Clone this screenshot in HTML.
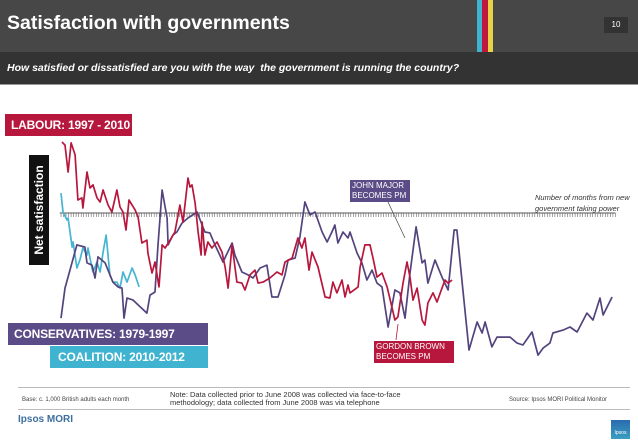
<!DOCTYPE html>
<html><head><meta charset="utf-8">
<style>
body{margin:0;width:638px;height:442px;overflow:hidden;background:#fff;font-family:"Liberation Sans",sans-serif;position:relative}
.abs{position:absolute}
.box{position:absolute;color:#fff;font-weight:bold;font-size:12px;line-height:22px;padding-left:6px;box-sizing:border-box;white-space:nowrap;letter-spacing:-0.2px}
</style></head><body>
<div class="abs" style="left:0;top:0;width:638px;height:52px;background:#474747"></div>
<div class="abs" style="left:7px;top:12px;color:#fff;font-weight:bold;font-size:19.5px">Satisfaction with governments</div>
<div class="abs" style="left:477px;top:0;width:5px;height:52px;background:#3fb3cf"></div>
<div class="abs" style="left:482px;top:0;width:6px;height:52px;background:#c0173d"></div>
<div class="abs" style="left:488px;top:0;width:5px;height:52px;background:#e6d34a"></div>
<div class="abs" style="left:604px;top:17px;width:24px;height:16px;background:#333;color:#fff;font-size:8px;text-align:center;line-height:16px">10</div>
<div class="abs" style="left:0;top:52px;width:638px;height:32px;background:#333;border-bottom:1px solid #999"></div>
<div class="abs" style="left:7px;top:62px;color:#fff;font-style:italic;font-weight:bold;font-size:10.5px">How satisfied or dissatisfied are you with the way &nbsp;the government is running the country?</div>

<div class="box" style="left:5px;top:114px;width:127px;height:22px;background:#b8173d">LABOUR: 1997 - 2010</div>
<div class="abs" style="left:29px;top:155px;width:20px;height:110px;background:#111"><div style="position:absolute;left:50%;top:50%;transform:translate(-50%,-50%) rotate(-90deg);color:#fff;font-weight:bold;font-size:12px;white-space:nowrap">Net satisfaction</div></div>
<div class="box" style="left:8px;top:323px;width:200px;height:22px;background:#5b4b86">CONSERVATIVES: 1979-1997</div>
<div class="box" style="left:50px;top:346px;width:158px;height:22px;background:#3fb3cf;padding-left:8px">COALITION: 2010-2012</div>
<div class="abs" style="left:350px;top:180px;width:60px;height:22px;background:#5b4b86;color:#fff;font-size:8px;line-height:10px;padding:1px 2px;box-sizing:border-box">JOHN MAJOR<br>BECOMES PM</div>
<div class="abs" style="left:374px;top:341px;width:80px;height:22px;background:#b8173d;color:#fff;font-size:8px;line-height:10px;padding:1px 2px;box-sizing:border-box">GORDON BROWN<br>BECOMES PM</div>
<div class="abs" style="left:535px;top:192px;font-style:italic;font-size:7.5px;color:#333;line-height:11px">Number of months from new<br>government taking power</div>

<svg class="abs" style="left:0;top:0" width="638" height="442">
<g id="ticks"></g>
<g id="series"></g>
<line x1="388" y1="202" x2="405" y2="238" stroke="#555" stroke-width="0.8"/>
<line x1="396" y1="340" x2="398" y2="324" stroke="#b8173d" stroke-width="0.8"/>
</svg>

<div class="abs" style="left:18px;top:387px;width:612px;height:1px;background:#bbb"></div>
<div class="abs" style="left:22px;top:397px;font-size:6px;color:#444">Base: c. 1,000 British adults each month</div>
<div class="abs" style="left:170px;top:391px;font-size:7.5px;line-height:8px;color:#333">Note: Data collected prior to June 2008 was collected via face-to-face<br>methodology; data collected from June 2008 was via telephone</div>
<div class="abs" style="left:509px;top:397px;font-size:6px;color:#444">Source: Ipsos MORI Political Monitor</div>
<div class="abs" style="left:18px;top:409px;width:612px;height:1px;background:#bbb"></div>
<div class="abs" style="left:18px;top:414px;font-size:10px;font-weight:bold;color:#3d6f9e">Ipsos MORI</div>
<div class="abs" style="left:611px;top:420px;width:19px;height:19px;background:linear-gradient(#2a6bb0,#3aa0c0);color:#fff;font-size:5px;text-align:center;line-height:26px">Ipsos</div>

<script>
const consMonths=[0,1.6,6.3,9.5,10.3,12.3,13.5,14.7,17.5,20.6,22.6,24.2,25,26.2,28.6,30.6,34.1,35.3,37.3,38.5,40.1,42.1,42.5,44.4,46,48,50.4,54,56,57.1,59.1,61.1,64.3,67.9,69,71.8,74.2,76.2,79,81.7,83.7,86.1,88.9,90.1,92.9,94.8,96.8,98.8,100.8,103.6,105.6,107.5,108.7,109.9,111.9,113.9,114.7,117.5,119.4,121.4,123.4,125.4,127.4,129.8,132.5,134.5,136.5,138.5,140.9,143.3,144.4,145.6,148.4,151.2,153.6,156,157.1,159.5,161.9,165.1,167.1,168.3,171,173,178.2,181,183.3,186.9,189.3,191.3,194,195.2,199.2,202,204.8,208.7,211.1,213.9,215.1,218.7];
const consValues=[-43.8,-31.3,-13.3,-14.2,-20.8,-21.7,-27.1,-18.3,-20.8,-28.8,-30.8,-31.3,-43.8,-35.4,-36.3,-38.3,-41.7,-34.2,-32.9,-13.3,9.6,-2.1,-13.3,-9.2,-7.9,-4.2,-2.1,0.4,-5,-7.9,-8.3,-13.3,-20.4,-12.5,-17.5,-24.6,-25.8,-27.1,-22.9,-21.7,-35,-35,-25.8,-19.6,-18.8,-10,4.6,-0.8,0.4,-7.9,-12.1,-7.9,-5,-12.5,-7.9,-10.4,-7.9,-16.7,-20.8,-27.9,-23.8,-29.2,-30.8,-47.5,-32.1,-33.3,-43.8,-25,-5.8,-20.8,-19.6,-29.2,-19.6,-26.7,-32.1,-7.1,-7.1,-32.1,-57.1,-45.4,-50,-45.4,-55.8,-51.7,-51.7,-54.2,-55,-49.6,-59.2,-56.3,-54.2,-50,-48.8,-47.5,-49.6,-41.7,-44.6,-35.4,-42.5,-35];
const labMonths=[0.4,1.6,2.8,4,5.6,6.7,8.3,8.7,10.3,11.5,12.7,14.3,15.5,16.7,18.7,20.2,22.2,23.4,24.6,25.8,27,29.4,30.6,32.1,34.1,34.5,36.1,37.3,38.9,40.1,41.3,43.3,45.2,47.2,48.4,50.4,51.2,52,53.2,54.4,55.6,56,57.1,58.3,59.9,61.9,63.9,65.1,66.3,67.9,69.8,71.8,73,75,77,78.2,80.2,82.9,85.7,87.7,88.9,91.7,94,95.6,96.8,98.4,99.6,102,104.8,106.7,107.9,109.5,111.5,112.7,113.9,114.7,117.9,118.7,120.6,122.6,123.8,125.4,127.4,129.4,131.3,132.5,133.7,135.7,137.3,138.5,139.7,141.3,143.3,144.4,145.6,147.6,149.2,151.2,152.4,153.6,155.2];
const labValues=[29.6,28.3,17.1,29.2,24.2,5.4,6.3,2.1,17.1,10.4,11.7,6.3,4.6,9.6,3.3,0.4,9.6,2.5,0.4,-7.1,5.4,1.3,-1.7,-12.5,-11.3,-16.7,-25,-20.4,-30.8,-13.3,-14.6,-11.3,-7.9,3.3,-3.8,14.6,10.8,11.7,4.2,-7.9,-17.5,-3.8,-17.5,-12.1,-14.6,-12.1,-16.3,-22.5,-31.3,-13.3,-28.8,-29.2,-32.1,-25.8,-23.8,-29.2,-28.8,-27.1,-24.6,-25.8,-20.4,-18.8,-10.4,-14.6,-10.4,-23.8,-16.3,-22.5,-35,-35.4,-28.8,-33.3,-27.9,-35,-30,-33.3,-30.8,-22.5,-13.3,-13.3,-18.8,-26.7,-25,-30.8,-39.2,-44.6,-43.3,-29.2,-20.4,-26.7,-36.3,-31.3,-44.6,-46.7,-37.5,-33.3,-37.1,-31.3,-27.9,-29.2,-27.9];
const coalMonths=[0,0.8,2.4,2.8,4.4,4.8,6.3,7.5,8.7,10.3,10.7,12.3,12.7,14.3,15.5,16.7,17.9,19.4,20.6,22.2,23.4,24.6,26.2,28.2,29.4,31];
const coalValues=[8.3,0.4,-2.9,-2.1,-14.2,-12.1,-22.9,-19.6,-14.6,-17.5,-14.6,-22.9,-24.6,-20.4,-24.6,-16.3,-9.2,-25.8,-28.8,-28.8,-31.3,-24.6,-28.8,-22.9,-25.8,-30.8];
const tickCount=221;

const NS='http://www.w3.org/2000/svg';
function xs(m){return 61+m*2.52;}
function ys(v){return 213-v*2.4;}
const tg=document.getElementById('ticks');
const axis=document.createElementNS(NS,'line');
axis.setAttribute('x1',xs(-0.5));axis.setAttribute('x2',xs(tickCount-1));
axis.setAttribute('y1',213);axis.setAttribute('y2',213);
axis.setAttribute('stroke','#555');axis.setAttribute('stroke-width','1');


tg.appendChild(axis);
let d='';
for(let i=0;i<tickCount;i++){const x=xs(i);d+='M'+x.toFixed(1)+' 213V217';}
const tp=document.createElementNS(NS,'path');
tp.setAttribute('d',d);tp.setAttribute('stroke','#666');tp.setAttribute('stroke-width','0.6');


tg.appendChild(tp);
const sg=document.getElementById('series');
function line(ms,vs,color,name){
  const p=document.createElementNS(NS,'polyline');
  p.setAttribute('points',ms.map((m,i)=>xs(m).toFixed(1)+','+ys(vs[i]).toFixed(1)).join(' '));
  p.setAttribute('fill','none');p.setAttribute('stroke',color);p.setAttribute('stroke-width','1.7');
  p.setAttribute('stroke-linejoin','round');
  
  
  sg.appendChild(p);
}
line(coalMonths,coalValues,'#45b5d0','coalition-line');
line(consMonths,consValues,'#54447e','conservatives-line');
line(labMonths,labValues,'#b8173d','labour-line');
</script>
</body></html>
